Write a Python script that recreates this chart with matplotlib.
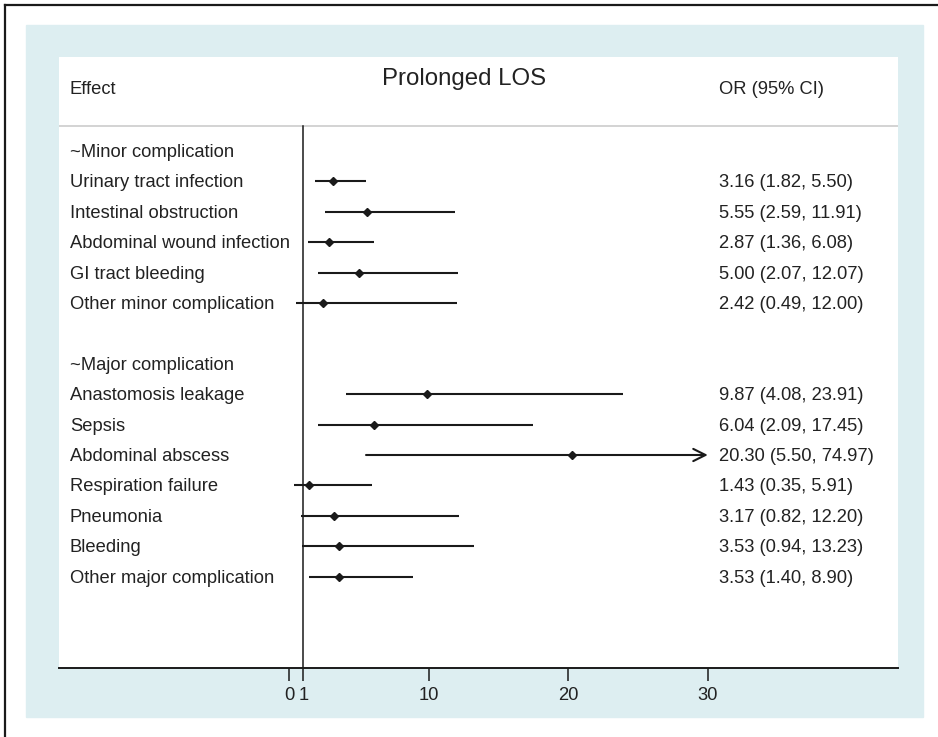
import numpy as np
import matplotlib.pyplot as plt
from matplotlib.patches import Rectangle
from matplotlib.lines import Line2D

plt.rcParams["font.family"] = ["Liberation Sans", "DejaVu Sans"]

TITLE = "Prolonged LOS"
LABELS = ["~Minor complication", "Urinary tract infection", "Intestinal obstruction",
          "Abdominal wound infection", "GI tract bleeding", "Other minor complication",
          "", "~Major complication", "Anastomosis leakage", "Sepsis", "Abdominal abscess",
          "Respiration failure", "Pneumonia", "Bleeding", "Other major complication"]
# nan = header / spacer row
OR_VALS = [np.nan, 3.16, 5.55, 2.87, 5.00, 2.42, np.nan, np.nan,
           9.87, 6.04, 20.30, 1.43, 3.17, 3.53, 3.53]
CI_LO = [np.nan, 1.82, 2.59, 1.36, 2.07, 0.49, np.nan, np.nan,
         4.08, 2.09, 5.50, 0.35, 0.82, 0.94, 1.40]
CI_HI = [np.nan, 5.50, 11.91, 6.08, 12.07, 12.00, np.nan, np.nan,
         23.91, 17.45, 74.97, 5.91, 12.20, 13.23, 8.90]
XTICKS = [0, 1, 10, 20, 30]
XMAX = 30

W, H = 938, 737
TXT = "#222222"
BG = "#ddeef1"
FS = 13.2

fig = plt.figure(figsize=(W / 100, H / 100), dpi=100)

# light blue panel + black frame (left & top only visible)
fig.patches.append(Rectangle((26 / W, 1 - 717 / H), 897 / W, 692 / H,
                             transform=fig.transFigure, color=BG, zorder=0))
fig.lines.append(Line2D([5 / W, 5 / W], [0, 1 - 5 / H], transform=fig.transFigure,
                        color="#1a1a1a", lw=1.6))
fig.lines.append(Line2D([5 / W, 1], [1 - 5 / H, 1 - 5 / H], transform=fig.transFigure,
                        color="#1a1a1a", lw=1.6))

ax = fig.add_axes([59 / W, 1 - 668 / H, 839 / W, 611 / H])
ax.set_facecolor("white")
ax.set_zorder(1)

# rows: 30.4 px apart, first row at y=151 px
row_px = 30.4
top_row = -(151 - 57) / row_px
bot_row = (668 - 151) / row_px
ax.set_ylim(bot_row, top_row)
ax.set_xlim((59 - 289.3) / 13.95, (898 - 289.3) / 13.95)

tr = ax.get_yaxis_transform()
hdr_y = (90 - 151) / row_px
sep_y = (126 - 151) / row_px
x_left = 0.0131
x_right = 0.7866
dy = 1.5 / row_px  # text sits slightly lower than the CI line

ax.text(x_left, hdr_y, "Effect", transform=tr, ha="left", va="center",
        fontsize=FS, color=TXT)
ax.text(x_right, hdr_y, "OR (95% CI)", transform=tr, ha="left", va="center",
        fontsize=FS, color=TXT)
ax.text(0.4827, (79 - 151) / row_px, TITLE, transform=tr, ha="center", va="center",
        fontsize=17.3, color=TXT)
ax.axhline(sep_y, color="#cccccc", lw=1.2)
ax.plot([1, 1], [sep_y, bot_row], color="#1a1a1a", lw=1.1)

for i, lab in enumerate(LABELS):
    ax.text(x_left, i + dy, lab, transform=tr, ha="left", va="center", fontsize=FS, color=TXT)
    if np.isnan(OR_VALS[i]):
        continue
    lo, hi = CI_LO[i], CI_HI[i]
    if hi > XMAX:
        ax.annotate("", xy=(XMAX, i), xytext=(lo, i),
                    arrowprops=dict(arrowstyle="->", lw=1.5, color="#1a1a1a",
                                    mutation_scale=22, shrinkA=0, shrinkB=0))
    else:
        ax.plot([lo, hi], [i, i], color="#1a1a1a", lw=1.5, solid_capstyle="butt")
    ax.plot(OR_VALS[i], i, marker="D", ms=4.2, color="#1a1a1a")
    ax.text(x_right, i + dy, f"{OR_VALS[i]:.2f} ({lo:.2f}, {hi:.2f})", transform=tr,
            ha="left", va="center", fontsize=FS, color=TXT)

for s in ["top", "left", "right"]:
    ax.spines[s].set_visible(False)
ax.spines["bottom"].set_linewidth(1.4)
ax.spines["bottom"].set_color("#1a1a1a")
ax.set_yticks([])
ax.set_xticks(XTICKS)
ax.tick_params(axis="x", length=9, width=1.1, colors="#1a1a1a", labelsize=FS,
               pad=5, labelcolor=TXT)

fig.savefig("out.png", dpi=100)
